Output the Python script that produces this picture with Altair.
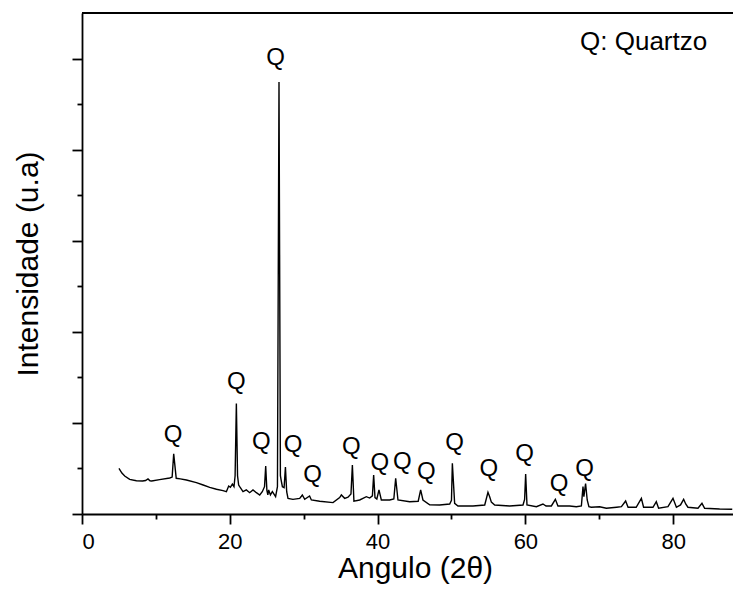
import altair as alt
import pandas as pd

# ---- data (angle in degrees 2-theta, intensity in a.u.) ----
angle = [5.0, 5.4, 5.78, 6.45, 7.36, 8.2, 8.6, 8.93, 9.2, 9.43, 10.5, 11.87, 12.2, 12.41, 12.75,
         13.3, 14.13, 15.48, 16.4, 17.28, 18.2, 19.08, 19.54, 19.85, 20.08, 20.35, 20.57, 20.72,
         20.89, 21.05, 21.2, 21.34, 21.79, 22.24, 22.69, 23.14, 23.6, 24.05, 24.4, 24.7, 24.86,
         25.02, 25.15, 25.26, 25.5, 25.76, 26.2, 26.45, 26.66, 26.85, 26.95, 27.12, 27.35, 27.53,
         27.7, 27.88, 28.55, 29.46, 29.69, 29.82, 30.14, 30.8, 31.04, 32.17, 33.97, 34.87, 35.1,
         35.55, 36.0, 36.4, 36.59, 36.8, 37.58, 38.02, 38.48, 38.93, 39.3, 39.47, 39.65, 39.9,
         40.19, 40.51, 41.64, 42.2, 42.45, 42.76, 44.34, 45.5, 45.83, 46.14, 47.05, 48.4, 49.76,
         50.0, 50.12, 50.43, 50.88, 52.91, 54.5, 54.94, 55.17, 55.4, 55.85, 57.88, 59.68, 59.9,
         60.04, 60.22, 61.49, 62.38, 62.8, 63.52, 64.06, 64.41, 65.99, 66.9, 67.58, 67.8, 67.92,
         68.15, 68.37, 68.6, 68.93, 70.05, 70.96, 72.35, 73.0, 73.57, 73.9, 75.0, 75.7, 76.0,
         77.27, 77.72, 78.03, 79.3, 79.98, 80.44, 81.0, 81.42, 81.7, 82.0, 83.36, 83.9, 84.26,
         86.29, 88.0]
intensity = [502, 450, 417, 380, 365, 362, 368, 385, 365, 362, 378, 395, 405, 660, 392,
             385, 373, 344, 318, 293, 272, 256, 245, 307, 293, 329, 300, 420,
             1212, 420, 318, 300, 245, 264, 234, 264, 234, 209, 245, 300, 527,
             260, 209, 264, 209, 245, 190, 300, 4743, 420, 373, 300, 290, 515,
             245, 172, 161, 172, 195, 209, 161, 198, 154, 140, 125, 180, 209,
             172, 185, 220, 538, 140, 154, 172, 190, 175, 200, 428, 180, 165,
             264, 154, 154, 165, 392, 154, 135, 140, 264, 154, 100, 99, 110,
             150, 557, 117, 88, 88, 99, 238, 190, 130, 99, 88, 99, 160,
             439, 99, 80, 110, 88, 88, 161, 88, 88, 80, 88, 300, 190,
             335, 154, 80, 74, 80, 63, 74, 80, 143, 74, 74, 172, 74,
             74, 135, 63, 80, 172, 74, 100, 161, 110, 74, 63, 117, 63,
             55, 52]

q_angle = [12.31, 20.9, 24.27, 26.2, 28.55, 31.2, 36.45, 40.3, 43.35, 46.6, 50.43, 55.07,
           59.9, 64.55, 68.02]
q_height = [867, 1449, 794, 5007, 758, 428, 739, 557, 574, 464, 783, 491, 656, 326, 491]

legend_label = ["Q: Quartzo"]
legend_angle = [67.4]
legend_height = [5186]

x_title = "Angulo (2θ)"
y_title = "Intensidade (u.a)"

# ---- layout / style ----
FONT = "Liberation Sans"
W, H = 651, 501
XMAX, YMAX = 88.1, 5500

df = pd.DataFrame({"angle": angle, "intensity": intensity})
qdf = pd.DataFrame({"angle": q_angle, "intensity": q_height, "t": ["Q"] * len(q_angle)})
ldf = pd.DataFrame({"angle": legend_angle, "intensity": legend_height, "t": legend_label})
tdf = pd.DataFrame({"intensity": [YMAX]})

xscale = alt.Scale(domain=[0, XMAX], nice=False, zero=False)
yscale = alt.Scale(domain=[0, YMAX], nice=False)

x_axis = alt.Axis(
    values=list(range(0, 90, 10)),
    labelExpr="datum.value % 20 === 0 ? datum.label : ''",
    tickSize={"condition": {"test": "datum.value % 20 === 0", "value": 10}, "value": 5},
    title=x_title,
    titleFont=FONT, titleFontSize=30, titleFontWeight="normal", titleColor="black",
    titleX=333, titleY=63, titleBaseline="alphabetic", titleAlign="center",
    grid=False,
)
y_axis = alt.Axis(
    values=list(range(0, 5001, 500)),
    labels=False,
    tickSize={"condition": {"test": "datum.value % 1000 === 0", "value": 10}, "value": 5},
    title=y_title,
    titleFont=FONT, titleFontSize=30, titleFontWeight="normal", titleColor="black",
    titleX=-45, titleY=250.5, titleAngle=270, titleBaseline="alphabetic", titleAlign="center",
    grid=False,
)

X = alt.X("angle:Q", scale=xscale, axis=x_axis)
Y = alt.Y("intensity:Q", scale=yscale, axis=y_axis)

line = alt.Chart(df).mark_line(color="black", strokeWidth=1.4, clip=True).encode(x=X, y=Y)

qlabels = alt.Chart(qdf).mark_text(
    font=FONT, fontSize=24, color="black", align="center", baseline="middle"
).encode(x=X, y=Y, text="t:N")

legend = alt.Chart(ldf).mark_text(
    font=FONT, fontSize=26, color="black", align="left", baseline="middle"
).encode(x=X, y=Y, text="t:N")

topline = alt.Chart(tdf).mark_rule(color="black", strokeWidth=1.8).encode(
    y=Y, x=alt.value(0), x2=alt.value(W)
)

chart = (
    alt.layer(line, qlabels, legend, topline)
    .properties(
        width=W, height=H,
        autosize=alt.AutoSizeParams(type="none"),
        padding={"left": 74, "top": 5, "right": 0, "bottom": 70},
        background="white",
    )
    .configure_view(stroke=None)
    .configure_axis(
        domainColor="black", domainWidth=1.8,
        tickColor="black", tickWidth=1.8,
        labelFont=FONT, labelFontSize=22, labelColor="black", labelPadding=7,
    )
)

chart.save("out.html", embed_options={"renderer": "svg", "actions": False})
